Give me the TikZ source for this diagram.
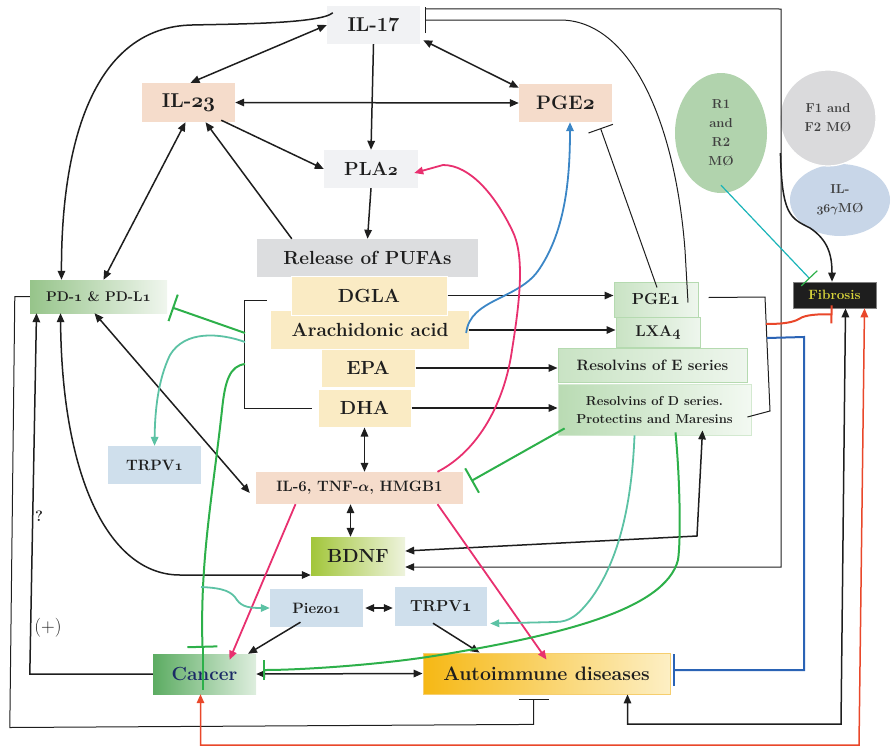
\documentclass[tikz,border=0pt]{standalone}
\usetikzlibrary{arrows.meta,shapes.geometric,calc}
\definecolor{ink}{HTML}{1E1E1E}
\definecolor{lgray}{HTML}{F1F2F4}
\definecolor{peach}{HTML}{F5DCCB}
\definecolor{pgray}{HTML}{DCDDDF}
\definecolor{yel}{HTML}{FAEBC4}
\definecolor{lblue}{HTML}{CFDFEC}
\definecolor{fibtxt}{HTML}{D9D53B}
\definecolor{rgreen}{HTML}{B1D3AD}
\definecolor{fgray}{HTML}{DADADC}
\definecolor{ilblue}{HTML}{C8D6E8}
\definecolor{pinkc}{HTML}{E8306F}
\definecolor{tealc}{HTML}{5CC2A4}
\definecolor{greenl}{HTML}{2DB04A}
\definecolor{bluec}{HTML}{3B86C6}
\definecolor{dblue}{HTML}{2A63B5}
\definecolor{redc}{HTML}{E9472A}
\definecolor{cyanc}{HTML}{1BB4B8}
\definecolor{navy}{HTML}{1B2A66}
\definecolor{gedge}{HTML}{B5DAB0}
\definecolor{bdnfL}{HTML}{A2C63A}
\definecolor{bdnfR}{HTML}{EEF3DD}
\definecolor{canL}{HTML}{5CAC62}
\definecolor{canR}{HTML}{DEEEDE}
\definecolor{autoL}{HTML}{F6B814}
\definecolor{autoR}{HTML}{FDEFC4}
\definecolor{autoE}{HTML}{F6CE6E}
\definecolor{pdL}{HTML}{96C48A}
\definecolor{pdR}{HTML}{F0F6EE}
\definecolor{gbL}{HTML}{C9E3C4}
\definecolor{gbR}{HTML}{EEF6ED}
\definecolor{rdL}{HTML}{B9DBB3}
\definecolor{rdR}{HTML}{F3F9F2}
\newcommand\myfs[1]{\fontsize{#1}{#1}\selectfont}
\newcommand\osn[1]{{\usefont{OML}{cmm}{b}{it}#1}}
\tikzset{
  box/.style={rectangle, inner sep=0pt, align=center, text=ink},
  arr/.style={draw=ink, line width=1.5pt, -{Triangle[length=9pt,width=7.5pt]}},
  darr/.style={draw=ink, line width=1.5pt, {Triangle[length=9pt,width=7.5pt]}-{Triangle[length=9pt,width=7.5pt]}},
  thinl/.style={draw=ink, line width=1pt},
  carr/.style={line width=1.8pt, -{Triangle[length=9pt,width=7.5pt]}},
}
\begin{document}
\begin{tikzpicture}[x=1pt,y=-1pt]
\useasboundingbox (0,0) rectangle (891,747);
% ---------- nodes ----------
\node[box,fill=lgray,minimum width=93pt,minimum height=38pt,font=\myfs{20}\bfseries] (il17) at (373.5,25) {IL-17};
\node[box,fill=peach,minimum width=93pt,minimum height=39pt,font=\myfs{20}\bfseries] (il23) at (188.5,102.5) {IL-\osn{23}};
\node[box,fill=peach,minimum width=93pt,minimum height=38pt,font=\myfs{19.5}\bfseries] (pge2) at (565.5,103) {PGE\osn{2}};
\node[box,fill=lgray,minimum width=94pt,minimum height=38pt,font=\myfs{19}\bfseries] (pla2) at (371,169) {PLA\osn{2}};
\node[box,fill=pgray,minimum width=221pt,minimum height=38pt,font=\myfs{19}\bfseries] (pufa) at (367.5,258) {Release of PUFAs};
\node[box,fill=yel,minimum width=198pt,minimum height=38pt,font=\myfs{19}\bfseries] (aa) at (370,330) {Arachidonic acid};
\node[box,fill=yel,draw=white,line width=1pt,minimum width=156pt,minimum height=39pt,font=\myfs{19}\bfseries] (dgla) at (369,295.5) {DGLA};
\node[box,fill=yel,draw=white,line width=1pt,minimum width=94pt,minimum height=38pt,font=\myfs{19}\bfseries] (epa) at (368,368) {EPA};
\node[box,fill=yel,draw=white,line width=1pt,minimum width=93pt,minimum height=38pt,font=\myfs{19}\bfseries] (dha) at (364.5,408) {DHA};
\node[box,fill=peach,minimum width=207pt,minimum height=32pt,font=\myfs{15}\bfseries] (il6) at (359.5,488) {IL-6, TNF-{\boldmath$\alpha$}, HMGB1};
\node[box,left color=bdnfL,right color=bdnfR,minimum width=94pt,minimum height=38pt,font=\myfs{19}\bfseries] (bdnf) at (358,556) {BDNF};
\node[box,fill=lblue,minimum width=93pt,minimum height=38pt,font=\myfs{15}\bfseries] (piezo) at (316.5,608) {Piezo\osn{1}};
\node[box,fill=lblue,minimum width=92pt,minimum height=39pt,font=\myfs{16}\bfseries] (trpvm) at (441,606.5) {TRPV\osn{1}};
\node[box,fill=lblue,minimum width=93pt,minimum height=38pt,font=\myfs{15}\bfseries] (trpvl) at (154.5,465) {TRPV\osn{1}};
\node[box,left color=canL,right color=canR,minimum width=103pt,minimum height=40pt,font=\myfs{19}\bfseries,text=navy] (cancer) at (204.5,674) {Cancer};
\node[box,left color=autoL,right color=autoR,draw=autoE,line width=0.8pt,minimum width=247pt,minimum height=41pt,font=\myfs{19.5}\bfseries] (auto) at (546.5,673.5) {Autoimmune diseases};
\node[box,left color=pdL,right color=pdR,minimum width=137pt,minimum height=33pt,font=\myfs{14}\bfseries] (pd1) at (98.5,296.5) {PD-\osn{1} \& PD-L\osn{1}};
\node[box,left color=gbL,right color=gbR,draw=gedge,line width=1pt,minimum width=84pt,minimum height=35pt,font=\myfs{16}\bfseries] (pge1) at (656,299.5) {PGE\osn{1}};
\node[box,left color=gbL,right color=gbR,draw=gedge,line width=1pt,minimum width=84pt,minimum height=30pt,font=\myfs{15.5}\bfseries] (lxa4) at (658,332) {LXA\osn{4}};
\node[box,left color=gbL,right color=gbR,draw=gedge,line width=1pt,minimum width=189pt,minimum height=34pt,font=\myfs{15}\bfseries] (rese) at (652.5,365) {Resolvins of E series};
\node[box,left color=rdL,right color=rdR,draw=gedge!60,line width=0.8pt,minimum width=193pt,minimum height=51pt,font=\fontsize{13}{18}\selectfont\bfseries] (resd) at (654.5,409.5) {Resolvins of D series.\\Protectins and Maresins};
\node[box,fill=ink,draw=gray,line width=0.6pt,minimum width=83pt,minimum height=26pt,font=\myfs{13.5}\bfseries,text=fibtxt] (fib) at (834.5,295) {Fibrosis};
\node[ellipse,fill=rgreen,inner sep=0pt,minimum width=92pt,minimum height=120pt,align=center,text=ink!85,font=\fontsize{13}{19}\selectfont\bfseries] (r1) at (721,133) {R1\\and\\R2\\MØ};
\node[ellipse,fill=ilblue,inner sep=0pt,minimum width=100pt,minimum height=72pt,align=center,text=ink!85,font=\fontsize{13}{19}\selectfont\bfseries] (il36) at (840,200) {IL-\\\osn{36}{\boldmath$\gamma$}MØ};
\node[circle,fill=fgray,draw=white,line width=1.2pt,inner sep=0pt,minimum size=96pt,align=center,text=ink!85,font=\fontsize{13}{19}\selectfont\bfseries] (f1) at (828,118) {F1 and\\F2 MØ};
\node[font=\myfs{15}\bfseries,text=ink] (q) at (39,516) {?};
\node[font=\myfs{19},text=ink] (plus) at (48,628) {(+)};
% ---------- helper coordinates ----------
\coordinate (brkA) at (245,333);
\coordinate (brkB) at (245,342);
\coordinate (brkC) at (245,364);
\coordinate (brkD) at (201,587);
\coordinate (brkR1) at (766,324);
\coordinate (brkR2) at (767,338);
% ---------- black connectors ----------
\draw[darr] (il17.west) -- ([xshift=2]il23.north);
\draw[arr] (il17.south) -- (pla2.north);
\draw[darr] ([xshift=3,yshift=4]il17.south east) -- ([yshift=-4]pge2.north west);
\draw[darr] (il23.east) -- (pge2.west);
\draw[arr] ([xshift=-14,yshift=2]il23.south east) -- (pla2.west);
\draw[arr] ([xshift=35]pufa.north west) -- ([xshift=17]il23.south);
\draw[arr] (pla2.south) -- (pufa.north);
\draw[arr] ([xshift=6,yshift=-7]il17.north west) .. controls (320,24) and (230,24) .. (192,25) .. controls (95,27) and (61,140) .. ([xshift=-37]pd1.north);
\draw[darr] ([xshift=-3]il23.south) -- ([xshift=5]pd1.north);
\draw[thinl,-{Bar[width=26pt]}] ([xshift=32,yshift=-3]pge1.center) -- (685,250) .. controls (675,120) and (630,20) .. (560,20) -- ([xshift=5,yshift=5]il17.east);
\draw[thinl,-{Triangle[length=9pt,width=7.5pt]}] ([xshift=5,yshift=-3]il17.north east) -- (781,9) |- ([yshift=-11]bdnf.east);
\draw[thinl,-{Bar[width=26pt]}] ([xshift=1,yshift=-6]pge1.north) -- ([xshift=35,yshift=-6]pge2.south);
\draw[arr] (dgla.east) -- (dgla.east -| pge1.west);
\draw[arr] (aa.east) -- (aa.east -| lxa4.west);
\draw[arr] (epa.east) -- (epa.east -| rese.west);
\draw[arr] (dha.east) -- (dha.east -| resd.west);
\draw[darr] (dha.south) -- (dha.south |- il6.north);
\draw[darr] ([xshift=-9]il6.south) -- ([xshift=-9]il6.south |- bdnf.north);
\draw[darr] ([xshift=-4]pd1.south) -- ([xshift=-6,yshift=-5]il6.west);
\draw[thinl] ([xshift=-24,yshift=-5]dgla.west) -| ([xshift=-73]dha.west) -- ([xshift=-6]dha.west);
\draw[darr] ([xshift=-38]pd1.south) .. controls (62,480) and (110,575) .. (180,575) -- ([yshift=-19]bdnf.west);
\draw[arr] (cancer.west) -- ++(-123,0) -- ([xshift=-62]pd1.south);
\draw[thinl,-{Bar[width=30pt]}] (pd1.west) -- ++(-15,0) -- ++(-5,431) -- ([xshift=-13,yshift=-30]auto.south) -- ([xshift=-13,yshift=-5]auto.south);
\draw[darr,shorten <=2pt,shorten >=2pt] (piezo.east) -- (piezo.east -| trpvm.west);
\draw[arr] ([xshift=-16,yshift=5]piezo.south) -- ([xshift=43.5]cancer.north);
\draw[arr] ([xshift=-8,yshift=3]trpvm.south) -- ([xshift=57]auto.north west);
\draw[darr] (cancer.east) -- (auto.west);
\draw[darr] ([yshift=5]bdnf.east) -- (697,536) -- ([xshift=48,yshift=5]resd.south);
\draw[thinl] ([xshift=10,yshift=2]pge1.east) -- (765,297) -- (770,411) -- ([xshift=-4,yshift=-7.5]resd.east);
\draw[darr] ([xshift=11]fib.south) -- (841,724) -| ([xshift=81]auto.south);
\draw[line width=1.5pt,draw=ink,-{Triangle[length=9pt,width=7.5pt]}] ([xshift=1,yshift=-35]f1.west) .. controls (782,215) and (790,218) .. (810,228) .. controls (828,240) and (832,255) .. ([xshift=-2.5]fib.north);
% ---------- coloured connectors ----------
\draw[bluec,carr] ([xshift=-3,yshift=-3]aa.east) .. controls (470,298) and (520,300) .. (540,268) .. controls (565,230) and (570,180) .. ([xshift=4.5]pge2.south);
\draw[pinkc,carr] ([xshift=78]il6.north) .. controls (480,450) and (505,400) .. (512,350) .. controls (520,300) and (525,255) .. (512,230) .. controls (495,195) and (470,165) .. (443,165) -- ([xshift=-4,yshift=-4]pla2.east);
\draw[pinkc,carr] ([xshift=-64]il6.south) -- ([xshift=25,yshift=-6]cancer.north);
\draw[pinkc,carr] ([xshift=78]il6.south) -- ([yshift=-7]auto.north);
\draw[greenl,line width=2pt,-{Bar[width=28pt]}] (brkA) -- ([xshift=5,yshift=-11]pd1.east);
\draw[tealc,carr] (brkB) .. controls (220,333) and (185,330) .. (170,355) .. controls (158,380) and (155,410) .. (trpvl.north);
\draw[greenl,line width=2pt,-{Bar[width=30pt]}] (brkC) .. controls (230,366) and (225,380) .. (222,410) .. controls (212,500) and (200,560) .. ([xshift=-2,yshift=6]cancer.north);
\draw[greenl,line width=2pt] ([xshift=-2,yshift=6]cancer.north) -- ([xshift=-2,yshift=-16]cancer.center);
\draw[tealc,carr] (brkD) .. controls (225,588) and (232,592) .. (237,600) .. controls (242,607) and (250,608) .. (piezo.west);
\draw[greenl,line width=2pt,-{Bar[width=20pt]}] ([xshift=21,yshift=3]resd.south) .. controls (680,480) and (681,540) .. (678,560) .. controls (665,610) and (560,635) .. (440,655) .. controls (380,665) and (300,670) .. ([xshift=7,yshift=4]cancer.east);
\draw[tealc,carr] ([xshift=-20]resd.south) .. controls (632,500) and (620,560) .. (590,600) .. controls (578,615) and (570,622) .. (555,622) -- ([xshift=3,yshift=-17]trpvm.east);
\draw[greenl,line width=2pt,-{Bar[width=28pt]}] ([xshift=7,yshift=7]resd.south west) -- ([xshift=8,yshift=7]il6.east);
\draw[redc,line width=1.5pt,{Triangle[length=9pt,width=7.5pt]}-{Triangle[length=9pt,width=7.5pt]}] ([xshift=-4]cancer.south) |- (859,745) -- ([xshift=30]fib.south);
\draw[redc,line width=2pt,-{Bar[width=18pt]}] (brkR1) .. controls (780,324) and (790,323) .. (797,320) .. controls (803,316) and (810,314) .. ([xshift=-2,yshift=-6]fib.south);
\draw[dblue,line width=2pt,-{Bar[width=32pt]}] (brkR2) -- (804,337) |- ([xshift=3,yshift=3.5]auto.east);
\draw[cyanc,line width=1.2pt,-{Bar[width=22pt,color=greenl]}] ([yshift=8]r1.south) -- ([xshift=17,yshift=3]fib.north west);
\end{tikzpicture}
\end{document}
